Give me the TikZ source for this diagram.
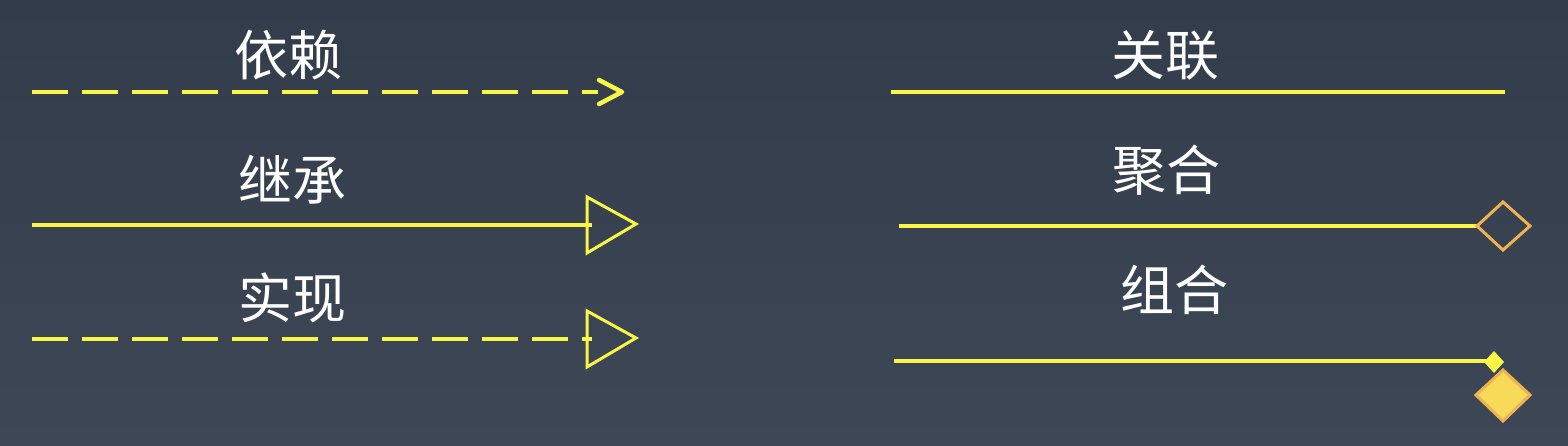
\documentclass[tikz,border=0pt]{standalone}
\usepackage{fontspec}
\newfontfamily\cjk{Noto Sans CJK SC}
\usetikzlibrary{arrows.meta}
\definecolor{bgtop}{RGB}{51,60,74}
\definecolor{bgbot}{RGB}{62,71,86}
\definecolor{lineyellow}{RGB}{250,246,72}
\definecolor{diaorange}{RGB}{238,178,80}
\definecolor{diafill}{RGB}{246,218,88}
\tikzset{
  lbl/.style={text=white, font=\cjk\fontsize{54}{64}\selectfont, inner sep=0pt},
  solidline/.style={draw=lineyellow, line width=4.5pt},
  dashline/.style={draw=lineyellow, line width=4.5pt, dash pattern=on 36pt off 14pt},
  trihead/.style={draw=lineyellow, line width=3pt, line join=miter},
  openbarb/.style={draw=lineyellow, line width=4.5pt, line cap=round, line join=round},
  hollowdia/.style={draw=diaorange, line width=3pt},
  smalldia/.style={fill=lineyellow},
  bigdia/.style={draw=diaorange, fill=diafill, line width=3pt},
}
\begin{document}
\begin{tikzpicture}[x=1pt,y=-1pt]
\shade[top color=bgtop, bottom color=bgbot] (0,0) rectangle (1568,446);
\useasboundingbox (0,0) rectangle (1568,446);

% labels
\node[lbl] (l1) at (288,55) {依赖};
\node[lbl] (l2) at (292,180) {继承};
\node[lbl] (l3) at (292,298) {实现};
\node[lbl] (r1) at (1165,55) {关联};
\node[lbl] (r2) at (1166,170) {聚合};
\node[lbl] (r3) at (1174,290) {组合};

% dependency
\coordinate (d0) at (32,92);
\coordinate (d1) at (598,92);
\coordinate (dt) at (622,92);
\draw[dashline] (d0) -- (d1);
\draw[openbarb] (599,80) -- (dt) -- (599,104);

% inheritance
\coordinate (g0) at (32,225);
\coordinate (g1) at (592,225);
\draw[solidline] (g0) -- (g1);
\draw[trihead] (587,197) -- (636,224) -- (587,253) -- cycle;

% realization
\coordinate (s0) at (32,339);
\coordinate (s1) at (592,339);
\draw[dashline] (s0) -- (s1);
\draw[trihead] (587,311) -- (636,338) -- (587,367) -- cycle;

% association
\coordinate (a0) at (891,92);
\coordinate (a1) at (1505,92);
\draw[solidline] (a0) -- (a1);

% aggregation
\coordinate (b0) at (899,226);
\coordinate (b1) at (1477,226);
\draw[solidline] (b0) -- (b1);
\draw[hollowdia] (1477,226) -- (1503,202) -- (1530,226) -- (1503,250) -- cycle;

% composition
\coordinate (c0) at (894,361);
\coordinate (c1) at (1488,361);
\draw[solidline] (c0) -- (c1);
\fill[smalldia] (1484,362) -- (1494,351) -- (1504,362) -- (1494,373) -- cycle;
\draw[bigdia] (1476,395) -- (1503,370) -- (1530,395) -- (1503,421) -- cycle;
\end{tikzpicture}
\end{document}
